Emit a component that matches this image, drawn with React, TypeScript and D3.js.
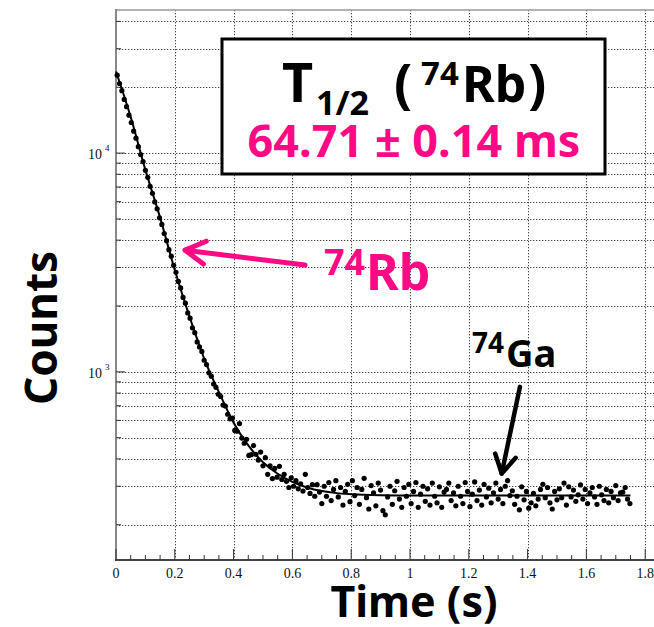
import React, { useEffect, useRef } from "react";
import * as d3 from "d3";

// histogram bins (8 ms wide), counts per bin
const binWidth = 0.008;
const counts = [
  22700, 20800, 19300, 17600, 16300, 14900, 13800, 12600, 11700, 10700,
  9850, 9150, 8350, 7750, 7050, 6550, 5980, 5560, 5060, 4720,
  4290, 3980, 3620, 3380, 3070, 2850, 2590, 2420, 2190, 2060,
  1860, 1760, 1590, 1510, 1370, 1300, 1240, 1130, 1080, 990,
  955, 880, 850, 790, 772, 705, 698, 640, 610, 615,
  540, 535, 580, 498, 472, 492, 415, 418, 460, 420,
  395, 430, 372, 405, 340, 372, 325, 362, 330, 370,
  322, 340, 316, 296, 328, 300, 318, 292, 308, 285,
  340, 296, 278, 305, 270,
  305, 282, 250, 300, 270, 312, 258, 290, 318, 268,
  296, 246, 284, 306, 255, 318, 272, 296, 248, 290,
  326, 266, 236, 302, 280, 244, 310, 288, 232, 222,
  268, 300, 248, 286, 316, 262, 240, 296, 270, 306,
  250, 284, 312, 240, 276, 300, 256, 292, 246, 310,
  270, 252, 298, 240, 282, 290, 310, 258, 280, 244,
  300, 270, 250, 312, 284, 242, 276, 314, 258, 288,
  246, 306, 268, 294, 252, 280, 310, 262, 290, 250,
  300, 318, 272, 286, 248, 270, 234, 298, 260, 284,
  238, 252, 278, 244, 262, 290, 306, 266, 296, 252,
  236, 284, 260, 292, 266, 310, 246, 298, 268, 288,
  256, 274, 304, 262, 290, 250, 280, 296, 268, 248,
  300, 274, 258, 290, 252, 284, 266, 302, 258, 280,
  282, 296, 262, 250,
];

// fitted decay curve
const fitTimes = [0, 0.05, 0.1, 0.15, 0.2, 0.25, 0.3, 0.35, 0.4, 0.45, 0.5, 0.55, 0.6, 0.65, 0.7, 0.75, 0.8, 0.9, 1.0, 1.2, 1.4, 1.6, 1.75];
const fitCounts = [23600, 14620, 8380, 5070, 2920, 1790, 1150, 808, 585, 461, 386, 342, 314, 296, 285, 279, 276, 273, 272, 272, 272, 272, 272];

const xTicks = [0, 0.2, 0.4, 0.6, 0.8, 1, 1.2, 1.4, 1.6, 1.8];
const xTickLabels = ["0", "0.2", "0.4", "0.6", "0.8", "1", "1.2", "1.4", "1.6", "1.8"];
const yDecades = [3, 4];

const halfLifeText = "64.71 \u00b1 0.14 ms";

const W = 654;
const H = 627;
const PINK = "#ff0a84";
const SANS = "'Noto Sans', 'Open Sans', sans-serif";
const SERIF = "'Liberation Serif', 'DejaVu Serif', serif";

const App = () => {
  const svgRef = useRef<SVGSVGElement>(null);

  useEffect(() => {
    const svg = d3.select(svgRef.current);
    svg.selectAll("*").remove();

    const x = d3.scaleLinear().domain([0, 1.83]).range([116, W]);
    const y = d3.scaleLog().domain([138, 45100]).range([560, 10]);
    const [yLo, yHi] = y.domain();

    const minorY: number[] = [];
    for (let d = 2; d <= 4; d++) {
      for (let k = 1; k <= 9; k++) {
        const v = k * Math.pow(10, d);
        if (v >= yLo && v <= yHi) minorY.push(v);
      }
    }

    // grid
    const grid = svg.append("g")
      .attr("stroke", "#444").attr("stroke-width", 1).attr("stroke-dasharray", "1.3,1.7");
    grid.selectAll("line.h").data(minorY).enter().append("line")
      .attr("x1", 116).attr("x2", W)
      .attr("y1", d => Math.round(y(d)) + 0.5).attr("y2", d => Math.round(y(d)) + 0.5);
    grid.selectAll("line.v").data(xTicks.filter(d => d > 0)).enter().append("line")
      .attr("y1", 10).attr("y2", 560)
      .attr("x1", d => Math.round(x(d)) + 0.5).attr("x2", d => Math.round(x(d)) + 0.5);

    // axes frame
    svg.append("line").attr("x1", 116).attr("x2", W).attr("y1", 10).attr("y2", 10)
      .attr("stroke", "#999").attr("stroke-width", 1.5);
    svg.append("line").attr("x1", 116).attr("x2", 116).attr("y1", 9).attr("y2", 561)
      .attr("stroke", "#888").attr("stroke-width", 2);
    svg.append("line").attr("x1", 115).attr("x2", W).attr("y1", 560).attr("y2", 560)
      .attr("stroke", "#444").attr("stroke-width", 2);

    // x ticks
    const xMinor = d3.range(0, 37).map(i => i * 0.05);
    svg.append("g").selectAll("line").data(xMinor).enter().append("line")
      .attr("x1", d => x(d)).attr("x2", d => x(d))
      .attr("y1", 560).attr("y2", (d, i) => (i % 4 === 0 ? 549 : 555))
      .attr("stroke", "#333").attr("stroke-width", 1);
    svg.append("g").selectAll("text").data(xTicks).enter().append("text")
      .attr("x", d => x(d)).attr("y", 578)
      .attr("text-anchor", "middle")
      .attr("font-family", SERIF).attr("font-size", 14).attr("fill", "#111")
      .text((d, i) => xTickLabels[i]);

    // y ticks
    svg.append("g").selectAll("line").data(minorY).enter().append("line")
      .attr("x1", 116).attr("x2", d => (Math.abs(Math.log10(d) % 1) < 1e-9 ? 125 : 121))
      .attr("y1", d => y(d)).attr("y2", d => y(d))
      .attr("stroke", "#333").attr("stroke-width", 1);
    const yl = svg.append("g").selectAll("g").data(yDecades).enter().append("g")
      .attr("transform", d => `translate(0,${y(Math.pow(10, d))})`);
    yl.append("text").attr("x", 102).attr("y", 6).attr("text-anchor", "end")
      .attr("font-family", SERIF).attr("font-size", 14).attr("fill", "#111").text("10");
    yl.append("text").attr("x", 105).attr("y", -2)
      .attr("font-family", SERIF).attr("font-size", 9).attr("fill", "#111").text(d => String(d));

    // fit curve
    const line = d3.line<number>()
      .x((d, i) => x(fitTimes[i]))
      .y(d => y(d))
      .curve(d3.curveMonotoneX);
    svg.append("path").datum(fitCounts)
      .attr("fill", "none").attr("stroke", "#000").attr("stroke-width", 2)
      .attr("d", line);

    // data points
    svg.append("g").selectAll("circle").data(counts).enter().append("circle")
      .attr("cx", (d, i) => x(binWidth / 2 + i * binWidth))
      .attr("cy", d => y(d))
      .attr("r", 2.6)
      .attr("fill", "#000");

    // arrows (positions in data coords)
    const arrow = (t0: number, c0: number, t1: number, c1: number, color: string, w: number, len: number) => {
      const x0 = x(t0), y0 = y(c0), x1 = x(t1), y1 = y(c1);
      const a = Math.atan2(y0 - y1, x0 - x1);
      const da = Math.PI / 6;
      const g = svg.append("g").attr("stroke", color).attr("stroke-width", w)
        .attr("fill", "none").attr("stroke-linecap", "round").attr("stroke-linejoin", "round");
      g.append("line").attr("x1", x0).attr("y1", y0).attr("x2", x1).attr("y2", y1);
      g.append("polyline").attr("points", [
        [x1 + len * Math.cos(a - da), y1 + len * Math.sin(a - da)],
        [x1, y1],
        [x1 + len * Math.cos(a + da), y1 + len * Math.sin(a + da)],
      ].map(p => p.join(",")).join(" "));
    };
    arrow(0.643, 3077, 0.235, 3600, PINK, 5, 23);
    arrow(1.374, 854, 1.312, 343, "#000", 4.5, 21);

    // annotations
    const label = (tx: number, ty: number, size: number, color: string, s: string, anchor = "start") =>
      svg.append("text").attr("x", tx).attr("y", ty)
        .attr("font-family", SANS).attr("font-weight", 700).attr("font-size", size)
        .attr("fill", color).attr("text-anchor", anchor).text(s);

    label(324, 275, 36, PINK, "74");
    label(366, 290, 50, PINK, "Rb");
    label(472, 353, 28, "#000", "74");
    label(506, 367, 38, "#000", "Ga");

    // half-life box
    svg.append("rect").attr("x", 222).attr("y", 39).attr("width", 383).attr("height", 135)
      .attr("fill", "#fff").attr("stroke", "#000").attr("stroke-width", 3);
    label(282, 102, 54, "#000", "T");
    label(316, 115, 34, "#000", "1/2");
    label(394, 103, 54, "#000", "(");
    label(421, 85, 33, "#000", "74");
    label(462, 102, 50, "#000", "Rb");
    label(528, 103, 54, "#000", ")");
    label(414, 157, 45, PINK, halfLifeText, "middle");

    // axis titles
    label(414, 617, 43, "#000", "Time (s)", "middle");
    svg.append("text")
      .attr("transform", "translate(57,328) rotate(-90)")
      .attr("text-anchor", "middle")
      .attr("font-family", SANS).attr("font-weight", 700).attr("font-size", 44)
      .attr("fill", "#000").text("Counts");
  }, []);

  return (
    <div style={{ position: "absolute", left: 0, top: 0 }}>
      <svg ref={svgRef} width={W} height={H} style={{ display: "block", background: "#fff" }}></svg>
    </div>
  );
};

export default App;
